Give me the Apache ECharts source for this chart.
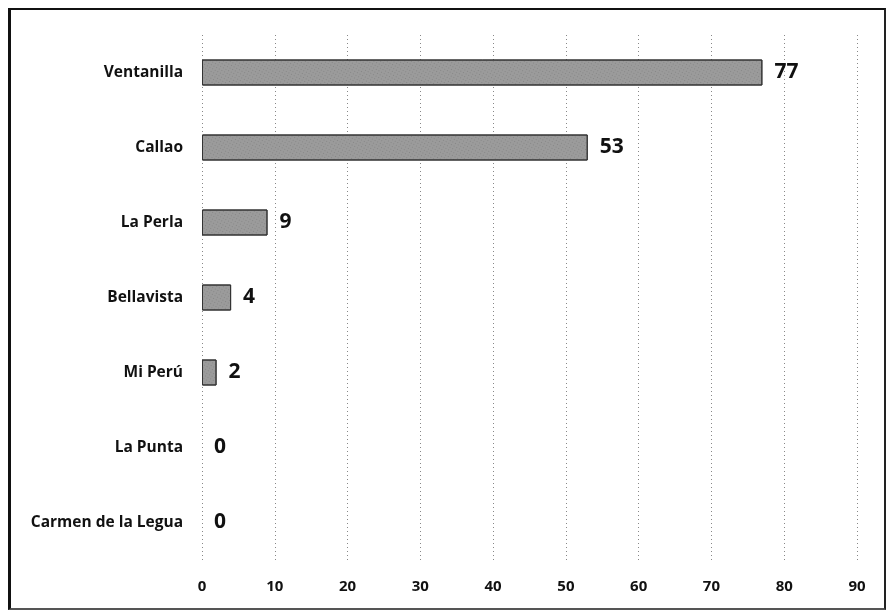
<!DOCTYPE html>
<html>
<head>
<meta charset="utf-8">
<script src="https://cdn.jsdelivr.net/npm/echarts@6/dist/echarts.min.js"></script>
<style>
  html, body { margin: 0; padding: 0; background: #fff; }
  #frame {
    position: absolute; left: 8px; top: 8px; width: 873px; height: 598px;
    border-top: 2px solid #111; border-left: 3px solid #111;
    border-right: 2px solid #222; border-bottom: 2px solid #555;
  }
  #main { position: absolute; left: 0; top: 0; width: 889px; height: 612px; }
</style>
</head>
<body>
<div id="frame"></div>
<div id="main"></div>
<script>
// distritos, de arriba hacia abajo
var distritos = ['Ventanilla', 'Callao', 'La Perla', 'Bellavista', 'Mi Perú', 'La Punta', 'Carmen de la Legua'];
var casos = [77, 53, 9, 4, 2, 0, 0];
var ejeMin = 0, ejeMax = 90, ejePaso = 10;

var myChart = echarts.init(document.getElementById('main'));

// las barras en cero no llevan borde
var datosBarras = casos.map(function (v) {
    return v === 0 ? { value: v, itemStyle: { borderWidth: 0 } } : v;
});

var option = {
    backgroundColor: 'transparent',
    animation: false,
    grid: { left: 202, right: 32, top: 35, bottom: 52 },
    xAxis: {
        type: 'value',
        min: ejeMin, max: ejeMax, interval: ejePaso,
        axisLine: { show: false },
        axisTick: { show: false },
        axisLabel: {
            color: '#111', fontFamily: 'Open Sans', fontWeight: 'bold', fontSize: 15, margin: 19
        },
        splitLine: { lineStyle: { type: [1, 3], color: '#888', width: 1 } }
    },
    yAxis: {
        type: 'category',
        data: distritos,
        inverse: true,
        axisLine: { show: false },
        axisTick: { show: false },
        axisLabel: {
            color: '#111', fontFamily: 'Open Sans', fontWeight: 'bold', fontSize: 15.5, margin: 19
        }
    },
    series: [{
        type: 'bar',
        data: datosBarras,
        barWidth: 26,
        itemStyle: {
            color: '#9b9b9b',
            borderColor: '#333',
            borderWidth: 1,
            decal: {
                symbol: 'rect', symbolSize: 0.7, color: 'rgba(30,30,30,0.45)',
                dashArrayX: [1, 2], dashArrayY: [1, 2], rotation: 0.5
            }
        },
        label: {
            show: true, position: 'right', distance: 12,
            color: '#111', fontFamily: 'Open Sans', fontWeight: 'bold', fontSize: 21
        }
    }]
};

myChart.setOption(option);
</script>
</body>
</html>
